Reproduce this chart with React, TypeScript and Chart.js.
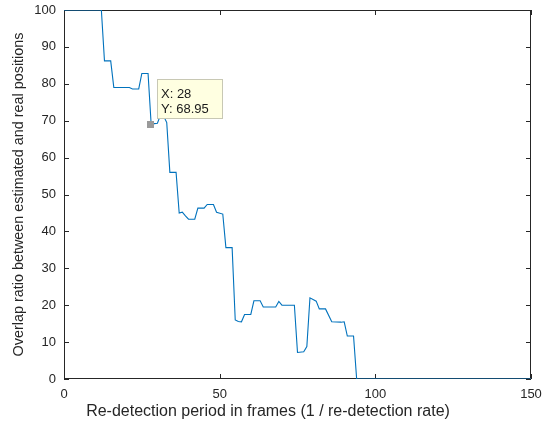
import React, { useEffect, useRef } from "react";
import { Chart, registerables } from "chart.js";

Chart.register(...registerables);

// Re-detection period (frames) at each vertex of the curve
const periodValues = [
  0, 12, 13, 15, 16, 21, 22, 24, 25, 27, 28, 29, 30, 31, 32, 33, 34, 36, 37, 38,
  39, 40, 42, 43, 45, 46, 48, 49, 51, 52, 54, 55, 56, 57, 58, 60, 61, 63, 64, 68,
  69, 70, 74, 75, 77, 78, 79, 81, 82, 84, 86, 89, 90, 91, 93, 94, 150,
];
// Overlap ratio at each vertex
const overlapValues = [
  100, 100, 86.2, 86.2, 79, 79, 78.6, 78.6, 82.8, 82.8, 68.95, 69.2, 69.3, 71.5, 71.3, 69.5, 56, 56, 45, 45.2,
  44.2, 43.3, 43.3, 46.3, 46.3, 47.3, 47.3, 45.2, 44.7, 35.6, 35.6, 16, 15.6, 15.5, 17.5, 17.5, 21.2, 21.2, 19.5, 19.5,
  21, 20, 20, 7.2, 7.4, 8.8, 22, 21.1, 19, 19, 15.5, 15.4, 15.5, 11.65, 11.65, 0, 0,
];

const xTickValues = [0, 50, 100, 150];
const yTickValues = [0, 10, 20, 30, 40, 50, 60, 70, 80, 90, 100];

const datatipX = 28;
const datatipY = 68.95;
const datatipLines = ["X: 28", "Y: 68.95"];

const xTitle = "Re-detection period in frames (1 / re-detection rate)";
const yTitle = "Overlap ratio between estimated and real positions";

const FONT = "'Liberation Sans', Arial, Helvetica, sans-serif";
const AXIS_COLOR = "#262626";

const framePlugin = {
  id: "matlabFrame",
  beforeDatasetsDraw(chart: any) {
    const { ctx, chartArea, scales } = chart;
    const { left, right, top, bottom } = chartArea;
    const tl = 5;
    ctx.save();
    ctx.strokeStyle = AXIS_COLOR;
    ctx.lineWidth = 1;
    ctx.beginPath();
    ctx.rect(Math.round(left) + 0.5, Math.round(top) + 0.5, Math.round(right - left) - 1, Math.round(bottom - top) - 1);
    ctx.stroke();
    ctx.beginPath();
    xTickValues.forEach((v) => {
      const px = Math.round(scales.x.getPixelForValue(v)) + 0.5;
      ctx.moveTo(px, bottom);
      ctx.lineTo(px, bottom - tl);
      ctx.moveTo(px, top);
      ctx.lineTo(px, top + tl);
    });
    yTickValues.forEach((v) => {
      const py = Math.round(scales.y.getPixelForValue(v)) + 0.5;
      ctx.moveTo(left, py);
      ctx.lineTo(left + tl, py);
      ctx.moveTo(right, py);
      ctx.lineTo(right - tl, py);
    });
    ctx.stroke();

    // x-axis title (placed left of centre, as in the original figure)
    ctx.fillStyle = AXIS_COLOR;
    ctx.font = `16px ${FONT}`;
    ctx.textAlign = "center";
    ctx.textBaseline = "alphabetic";
    ctx.fillText(xTitle, left + 204, bottom + 37);
    ctx.restore();
  },
  afterDatasetsDraw(chart: any) {
    const { ctx, scales } = chart;
    ctx.save();
    const mx = scales.x.getPixelForValue(datatipX);
    const my = scales.y.getPixelForValue(datatipY);
    ctx.fillStyle = "#9a9a9a";
    ctx.fillRect(Math.round(mx) - 4, Math.round(my) - 4, 7, 7);

    const bx = Math.round(mx) + 6.5;
    const by = Math.round(my) - 45.5;
    const bw = 65;
    const bh = 39;
    ctx.fillStyle = "#ffffe1";
    ctx.fillRect(bx, by, bw, bh);
    ctx.strokeStyle = "#c8c8b4";
    ctx.lineWidth = 1;
    ctx.strokeRect(bx, by, bw, bh);
    ctx.fillStyle = "#1a1a1a";
    ctx.font = `13px ${FONT}`;
    ctx.textAlign = "left";
    ctx.textBaseline = "alphabetic";
    datatipLines.forEach((t, i) => {
      ctx.fillText(t, bx + 3.5, by + 18.5 + i * 14.5);
    });
    ctx.restore();
  },
};

export default function App() {
  const canvasRef = useRef<HTMLCanvasElement | null>(null);

  useEffect(() => {
    const canvas = canvasRef.current;
    if (!canvas) return;
    const points = periodValues.map((x, i) => ({ x, y: overlapValues[i] }));
    const chart = new Chart(canvas, {
      type: "line",
      data: {
        datasets: [
          {
            data: points,
            borderColor: "#0072BD",
            borderWidth: 1.1,
            pointRadius: 0,
            tension: 0,
            fill: false,
          },
        ],
      },
      options: {
        animation: false,
        responsive: false,
        maintainAspectRatio: false,
        events: [],
        layout: { padding: { top: 10, right: 11, bottom: 0, left: 0 } },
        plugins: {
          legend: { display: false },
          tooltip: { enabled: false },
        },
        scales: {
          x: {
            type: "linear",
            min: 0,
            max: 150,
            afterFit: (s: any) => {
              s.height = 42;
              s.paddingLeft = 0;
              s.paddingRight = 0;
            },
            afterBuildTicks: (s: any) => {
              s.ticks = xTickValues.map((v) => ({ value: v }));
            },
            grid: { display: false, drawTicks: false },
            border: { display: false },
            ticks: {
              padding: 8,
              color: AXIS_COLOR,
              font: { family: FONT, size: 13 },
              maxRotation: 0,
            },
            title: { display: false },
          },
          y: {
            type: "linear",
            min: 0,
            max: 100,
            afterFit: (s: any) => {
              s.width = 64;
              s.paddingTop = 0;
              s.paddingBottom = 0;
            },
            afterBuildTicks: (s: any) => {
              s.ticks = yTickValues.map((v) => ({ value: v }));
            },
            grid: { display: false, drawTicks: false },
            border: { display: false },
            ticks: {
              padding: 8,
              color: AXIS_COLOR,
              font: { family: FONT, size: 13 },
            },
            title: {
              display: true,
              text: yTitle,
              color: AXIS_COLOR,
              font: { family: FONT, size: 14.4 },
              padding: { top: 10, bottom: 0 },
            },
          },
        },
      },
      plugins: [framePlugin],
    });
    return () => chart.destroy();
  }, []);

  return (
    <div style={{ position: "fixed", left: 0, top: 0, width: 542, height: 421, background: "#fff" }}>
      <canvas ref={canvasRef} width={542} height={421} style={{ width: 542, height: 421, display: "block" }} />
    </div>
  );
}
